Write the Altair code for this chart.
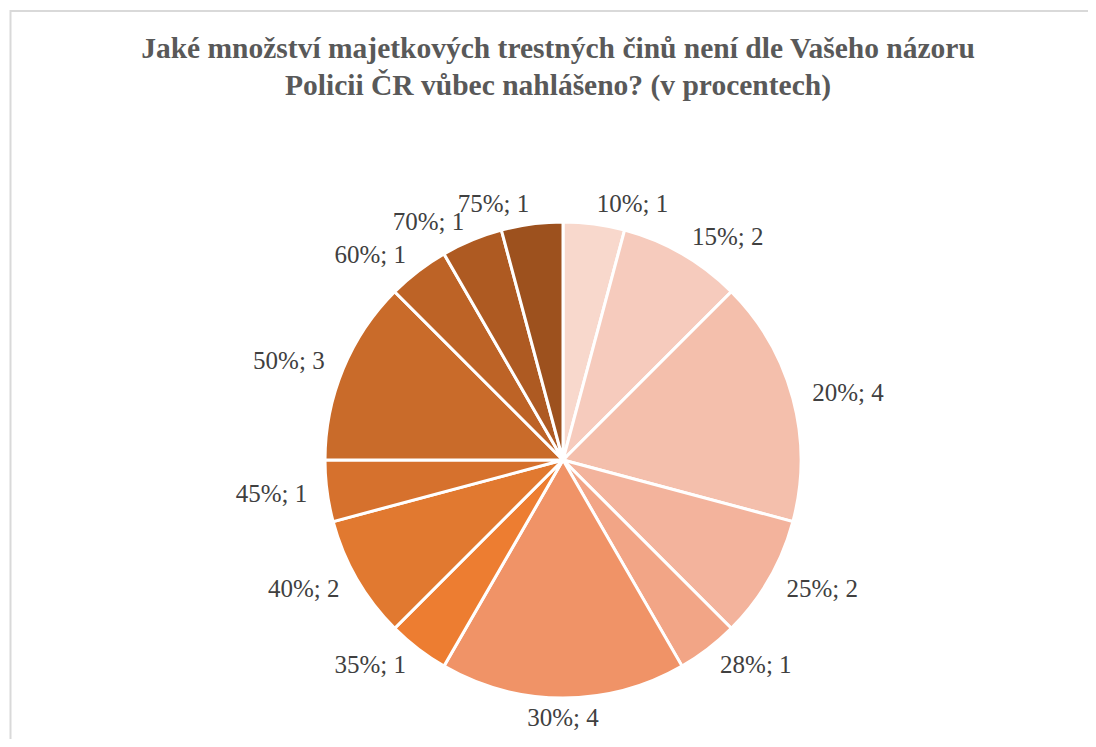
import altair as alt
import pandas as pd

categories = ["10%", "15%", "20%", "25%", "28%", "30%", "35%", "40%", "45%", "50%", "60%", "70%", "75%"]
counts = [1, 2, 4, 2, 1, 4, 1, 2, 1, 3, 1, 1, 1]
colors = ["#F8D8CC", "#F6CBBD", "#F4BFAC", "#F3B39C", "#F2A586", "#F09367", "#ED7D31",
          "#E17930", "#D6712D", "#C96B2A", "#BD6326", "#AE5A22", "#9D511E"]
title_lines = ["Jaké množství majetkových trestných činů není dle Vašeho názoru",
               "Policii ČR vůbec nahlášeno? (v procentech)"]

total = sum(counts)
df = pd.DataFrame({"cat": categories, "n": counts, "order": list(range(len(categories)))})
df["label"] = [f"{c}; {n}" for c, n in zip(categories, counts)]

W, H = 1080, 731
CX, CY, R = 555, 452, 238
LABEL_R = 258
FONT = "Liberation Serif"

base = alt.Chart(df)

pie = base.mark_arc(outerRadius=R, stroke="white", strokeWidth=3).encode(
    theta=alt.Theta("n:Q", stack=True, scale=alt.Scale(domain=[0, total])),
    order=alt.Order("order:Q"),
    color=alt.Color("cat:N", scale=alt.Scale(domain=categories, range=colors), legend=None),
    x=alt.value(CX),
    y=alt.value(CY),
)

lab = base.transform_window(
    cum="sum(n)", sort=[alt.SortField("order")], frame=[None, 0]
).transform_calculate(
    mid="datum.cum - datum.n / 2",
    deg=f"(datum.cum - datum.n / 2) / {total} * 360",
)


def text_layer(cond, align):
    return lab.transform_filter(cond).mark_text(
        align=align, baseline="middle", font=FONT, fontSize=25, color="#404040"
    ).encode(
        theta=alt.Theta("mid:Q", stack=False, scale=alt.Scale(domain=[0, total])),
        radius=alt.value(LABEL_R),
        text="label:N",
        x=alt.value(CX),
        y=alt.value(CY),
    )


right = text_layer("datum.deg < 170", "left")
bottom = text_layer("datum.deg >= 170 && datum.deg <= 190", "center")
left = text_layer("datum.deg > 190", "right")

one = pd.DataFrame({"a": [0]})
frame_top = alt.Chart(one).mark_rule(color="#d9d9d9", strokeWidth=2).encode(
    x=alt.value(2), x2=alt.value(W), y=alt.value(3)
)
frame_left = alt.Chart(one).mark_rule(color="#d9d9d9", strokeWidth=2).encode(
    x=alt.value(2.5), y=alt.value(2), y2=alt.value(H)
)

chart = alt.layer(frame_top, frame_left, pie, right, bottom, left).properties(
    width=W,
    height=H,
    padding=0,
    autosize=alt.AutoSizeParams(type="none"),
    title=alt.TitleParams(
        text=title_lines,
        font=FONT,
        fontSize=29.5,
        fontWeight="bold",
        color="#595959",
        lineHeight=37,
        anchor="middle",
        baseline="alphabetic",
        offset=-116,
        dx=10,
    ),
).configure_view(stroke="transparent")

chart.save("out.html", embed_options={"renderer": "svg", "actions": False})
